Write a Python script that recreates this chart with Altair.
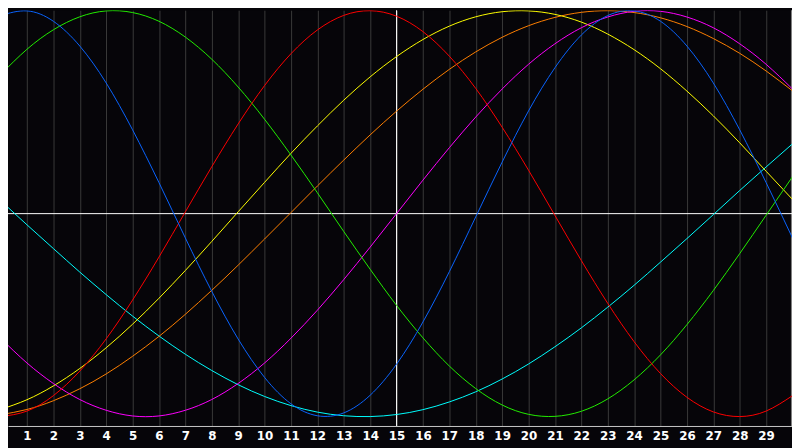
import altair as alt
import pandas as pd

# Day index (0..30) across the chart
days = list(range(31))
tick_days = list(range(1, 30))

# Cycle values (-1 .. 1), one per day
blue = [0.976, 0.999, 0.948, 0.826, 0.644, 0.413, 0.153, -0.120, -0.383, -0.618,
        -0.807, -0.937, -0.996, -0.982, -0.895, -0.742, -0.534, -0.286, -0.016, 0.254,
        0.506, 0.719, 0.880, 0.976, 0.999, 0.948, 0.826, 0.644, 0.413, 0.153, -0.120]
red = [-1.000, -0.973, -0.897, -0.776, -0.617, -0.426, -0.214, 0.009, 0.231, 0.442,
       0.631, 0.788, 0.905, 0.977, 1.000, 0.973, 0.897, 0.776, 0.617, 0.426,
       0.214, -0.009, -0.231, -0.442, -0.631, -0.788, -0.905, -0.977, -1.000, -0.973, -0.897]
green = [0.685, 0.810, 0.906, 0.970, 0.999, 0.991, 0.948, 0.870, 0.761, 0.624,
         0.465, 0.289, 0.103, -0.088, -0.274, -0.452, -0.612, -0.751, -0.862, -0.943,
         -0.989, -0.999, -0.974, -0.913, -0.819, -0.696, -0.547, -0.379, -0.197, -0.008, 0.182]
magenta = [-0.614, -0.736, -0.837, -0.916, -0.969, -0.997, -0.997, -0.969, -0.916, -0.837,
           -0.736, -0.614, -0.476, -0.325, -0.165, 0.000, 0.165, 0.325, 0.476, 0.614,
           0.736, 0.837, 0.916, 0.969, 0.997, 0.997, 0.969, 0.916, 0.837, 0.736, 0.614]
yellow = [-0.965, -0.917, -0.849, -0.763, -0.661, -0.545, -0.417, -0.280, -0.137, 0.009,
          0.154, 0.297, 0.432, 0.559, 0.674, 0.774, 0.858, 0.924, 0.970, 0.995,
          0.999, 0.982, 0.944, 0.885, 0.808, 0.714, 0.604, 0.482, 0.349, 0.209, 0.070]
orange = [-0.991, -0.965, -0.922, -0.863, -0.790, -0.703, -0.605, -0.496, -0.378, -0.254,
          -0.125, 0.005, 0.136, 0.264, 0.388, 0.505, 0.613, 0.711, 0.797, 0.869,
          0.926, 0.967, 0.992, 1.000, 0.991, 0.965, 0.922, 0.863, 0.790, 0.703, 0.605]
cyan = [0.064, -0.055, -0.172, -0.288, -0.399, -0.505, -0.603, -0.693, -0.773, -0.843,
        -0.901, -0.946, -0.978, -0.996, -1.000, -0.990, -0.966, -0.928, -0.878, -0.815,
        -0.741, -0.656, -0.563, -0.461, -0.353, -0.239, -0.123, -0.005, 0.114, 0.230, 0.344]

series_names = ["cyan", "orange", "yellow", "magenta", "green", "red", "blue"]
series_values = [cyan, orange, yellow, magenta, green, red, blue]
series_colors = ["#00ffff", "#ff7f00", "#ffff00", "#ff00ff", "#22ee00", "#ff0000", "#0a64ff"]

today = [15]
zero = [0]
right_edge = [29.96]

rows = []
for name, vals in zip(series_names, series_values):
    for d, v in zip(days, vals):
        rows.append({"day": d, "value": v, "cycle": name})
df = pd.DataFrame(rows)

BG = "#060509"
xscale = alt.Scale(domain=[0.2811, 29.9811], nice=False, zero=False)
yscale = alt.Scale(domain=[-1.0464, 1.0024], nice=False, zero=False)


def xaxis():
    return alt.Axis(values=tick_days, grid=True, ticks=False, domain=True, title=None)


border = alt.Chart(pd.DataFrame({"day": right_edge})).mark_rule(
    color="#8a8a8a", strokeWidth=1
).encode(x=alt.X("day:Q", scale=xscale, axis=xaxis()))

hline = alt.Chart(pd.DataFrame({"v": zero})).mark_rule(
    color="#ffffff", strokeWidth=1
).encode(y=alt.Y("v:Q", scale=yscale, axis=None))

vline = alt.Chart(pd.DataFrame({"day": today})).mark_rule(
    color="#ffffff", strokeWidth=1
).encode(x=alt.X("day:Q", scale=xscale, axis=xaxis()))

lines = alt.Chart(df).mark_line(strokeWidth=1, interpolate="natural", clip=True).encode(
    x=alt.X("day:Q", scale=xscale, axis=xaxis()),
    y=alt.Y("value:Q", scale=yscale, axis=None),
    color=alt.Color("cycle:N", scale=alt.Scale(domain=series_names, range=series_colors),
                    legend=None),
    detail="cycle:N",
)

chart = alt.layer(border, hline, vline, lines).properties(
    width=792,
    height=420,
    padding={"left": 0, "top": 0, "right": 0, "bottom": 20},
    autosize=alt.AutoSizeParams(type="none"),
    background=BG,
).configure_view(stroke=None, fill=BG).configure_axisX(
    gridColor="#3a3a3a", gridWidth=1, domainColor="#c8c8c8", domainWidth=1,
    labelColor="#ffffff", labelFont="DejaVu Sans", labelFontWeight="bold",
    labelFontSize=12, labelPadding=5, labelFlush=False, labelOverlap=False,
    labelBound=False
)

chart.save("out.html", embed_options={"renderer": "svg", "actions": False})
